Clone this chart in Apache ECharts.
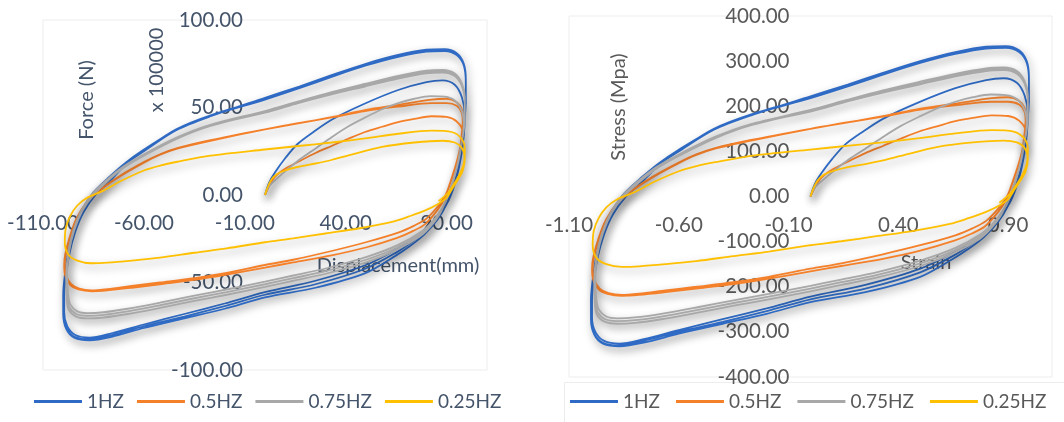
<!DOCTYPE html>
<html>
<head>
<meta charset="utf-8">
<script src="https://cdn.jsdelivr.net/npm/echarts@6/dist/echarts.min.js"></script>
<style>
html,body{margin:0;padding:0;background:#fff;}
#chart{width:1064px;height:422px;}
</style>
</head>
<body>
<div id="chart"></div>
<script>
// ---------- DATA (displacement mm, force x100000 N) ----------
const SERIES_NAMES = ['1HZ', '0.5HZ', '0.75HZ', '0.25HZ'];
const SERIES_COLORS = ['#2F6BC4', '#F5802A', '#A8A8A8', '#FFC000'];

const X_TICKS_LEFT = [-110, -60, -10, 40, 90];
const Y_TICKS_LEFT = [-100, -50, 0, 50, 100];
const X_TICKS_RIGHT = [-1.1, -0.6, -0.1, 0.4, 0.9];
const Y_TICKS_RIGHT = [-400, -300, -200, -100, 0, 100, 200, 300, 400];

// unit conversions used for the Stress-Strain panel
const STRAIN_PER_MM = 0.01;
const MPA_PER_FORCE_UNIT = 4;

const LOOP_1HZ = [
  [0,0],[2,7],[5,13],[10,21],[16,29],[24,36],[33,43],[49,52],[66,60],[80,64.5],[88,65.5],[94,63],[97.5,56],[99,46],
  [98.5,34],[97,21],[94.5,8],[91,-3],[86.5,-11],[80,-19],[73,-25.5],[66,-30.5],[50,-40],[25,-49],[0,-55.5],[-20,-62],[-40,-68],[-60,-74],[-76,-79],[-87,-81.5],[-94,-80],[-98,-75],[-99.5,-67],[-99.5,-57],[-98.7,-47],[-97,-34],[-94,-21],[-90,-10],[-84,0],[-76,9],[-68,18.5],[-60,25],[-44,37],[-27,45],[0,55.5],[17,62],[33,68.5],[50,75],[66,80],[80,83],[89,83.3],[95,81],[98.5,75],[99.5,66],[99.5,55],[99,45],
  [98,33],[96.5,20],[94,7],[90.5,-4],[86,-12.5],[79.5,-20.5],[72.5,-27],[65.5,-32.5],[50,-42],[25,-51],[0,-57],[-20,-63.5],[-40,-69.5],[-60,-75],[-76,-80],[-87,-82.5],[-94.5,-81],[-98.5,-76],[-99.8,-68],[-99.8,-57],[-99,-46],[-97.3,-33],[-94.3,-20],[-90.3,-9],[-84.5,1],[-76.5,10],[-68.5,18.5],[-60,25.5],[-44,37.5],[-27,45.5],[0,55],[17,61.5],[33,68],[50,74.5],[66,79.5],[80,82.5],[89,82.8],[95,80.5],[98.5,74.5],[99.5,65],[99.5,54],[99,44],
  [98,32],[96.5,19],[93.5,6],[90,-5],[85.5,-14],[79,-22.5],[72,-29],[65,-34.5],[50,-44.5],[25,-53],[0,-58.5],[-20,-65],[-40,-70.5],[-60,-76],[-76,-81],[-87,-83],[-94.5,-81.5],[-98.5,-76.5],[-100,-68],[-100,-57],[-99.2,-46],[-97.5,-33],[-94.5,-20],[-90.5,-8.5],[-85,1.5],[-77,10.5],[-69,18.5],[-60.5,25.5],[-44.5,37],[-27.5,45],[0,54.5],[17,61],[33,67.5],[50,74],[66,79],[80,82],[89,82.3],[95,80],[98.5,74],[99.5,64],[99.5,52]
];

const LOOP_05HZ = [
  [0,0],[2,5],[5,10.5],[10,15],[16.5,19],[25,24],[33,28],[41,32],[49.5,36],[58,39],[66,41.7],[74,43.5],[82.5,45],[90,44.6],[95,42],[98,36],
  [97,27],[95,18],[92.5,9],[89.5,0],[86,-6],[80,-13.5],[74,-17.5],[66,-21.5],[50,-27],[33,-32],[14,-37],[0,-40],[-19,-44.5],[-35,-47.5],[-52,-50],[-66,-52],[-78,-53.8],[-86,-54.5],[-92,-53.5],[-96,-51],[-98.5,-46],[-99.2,-40],[-98.7,-34],[-96.2,-23],[-93,-13],[-88,-4],[-81,3.4],[-71.4,11],[-60,18.5],[-52,23],[-43.5,26.5],[-27,31],[0,37.5],[16.5,41],[33,44.5],[49.5,48.5],[66,51.5],[82.5,54.5],[90,55],[95,53],[97.5,49],[98,43],[97.5,35],
  [96.5,26],[94.5,17],[92,8],[89,-2],[85.5,-8.5],[79.5,-16.5],[73.5,-20.5],[65.5,-24.5],[50,-30],[33,-34.5],[14,-38.5],[0,-41.5],[-19,-45.5],[-35,-48.5],[-52,-51],[-66,-53],[-78,-54.5],[-86,-55],[-92.5,-54],[-96.5,-51.5],[-99,-46],[-99.5,-40],[-99,-34],[-96.5,-23],[-93.2,-13],[-88.2,-4],[-81.2,3.5],[-71.5,11.2],[-60,18.8],[-52,23.3],[-43.5,26.8],[-27,31.3],[0,37.5],[16.5,41],[33,44.3],[49.5,48],[66,50.5],[82.5,52.5],[90,52.5],[95,51],[97.5,47],[98,41]
];

const LOOP_075HZ = [
  [0,0],[2,5],[6,9.5],[12,15.5],[18,21],[25,26.5],[33,33],[41,39],[50,44.5],[58,49],[66,52.5],[74,55],[82,56.5],[89,56.2],[94,54],[97.5,48],[98.5,40],
  [97.5,30],[96,20],[93.5,9],[91,0],[87.5,-8],[83,-15],[78,-20.5],[66,-28.5],[50,-35.5],[30,-42],[14,-46],[0,-49.5],[-19,-54],[-35,-57.5],[-52,-61.5],[-68,-65],[-80,-67],[-88,-67.5],[-93,-66.5],[-96.5,-62.5],[-97.5,-57],[-98,-46],[-97,-32],[-94.5,-20],[-90.5,-9],[-85,0],[-78,8],[-70,15.5],[-60,22.5],[-43,32.5],[-27,39.5],[0,47.5],[16.5,53],[33,58],[49.5,62.5],[66,67],[80,70],[88,70.5],[94,68.5],[97.5,63],[99,55],[99,45],[98.5,37],
  [97.3,29],[95.8,19],[93.2,8],[90.5,-1],[87,-9.5],[82.5,-16.5],[77.5,-22],[65.5,-30],[50,-37],[30,-43.5],[14,-47.5],[0,-51],[-19,-55.5],[-35,-59],[-52,-63],[-68,-66.5],[-80,-68.5],[-88,-69],[-93.5,-68],[-97,-64],[-98,-58],[-98.3,-46],[-97.3,-32],[-94.8,-20],[-90.8,-8.5],[-85.5,0.5],[-78.5,8.5],[-70.5,16],[-60.5,23],[-43.5,33],[-27.5,40],[0,48],[16.5,53.5],[33,58.8],[49.5,63.5],[66,68],[80,71],[88,71.5],[94,69.5],[97.5,64],[99,56],[99,46],[98.5,37],
  [97,28],[95.5,18],[92.8,7],[90,-2],[86.5,-11],[82,-18],[77,-23.5],[65,-31.5],[50,-38.5],[30,-45],[14,-49],[0,-52.5],[-19,-57],[-35,-60.5],[-52,-64.5],[-68,-68],[-80,-70],[-88,-70.5],[-93.5,-69.5],[-97.3,-65.5],[-98.3,-59],[-98.5,-47],[-97.5,-33],[-95,-20.5],[-91,-9],[-86,0],[-79,8],[-71,15.5],[-61,22.5],[-44,32.5],[-28,39.5],[0,47],[16.5,52.5],[33,57.5],[49.5,62],[66,66.5],[80,69.5],[88,70],[94,68],[97.5,62.5],[99,54],[99,44]
];

const LOOP_025HZ = [
  [0,0],[1.5,5],[3.3,9],[6,12],[10,14],[16,16],[25,18],[33,20],[41,22.5],[58,27.5],[74,30],[88,31],[94,30],[97.5,27],[99,21],
  [98,14],[96,9.5],[93,4],[90,-1.5],[86,-5],[80,-8.5],[72,-12],[63.5,-15.2],[47,-19],[30,-22],[14,-24.8],[0,-27],[-19,-30.5],[-35,-33],[-52,-35.8],[-66,-37.5],[-78,-38.7],[-86,-39],[-93,-37.5],[-97.5,-34],[-99.2,-27],[-98.7,-19],[-96.5,-12],[-93,-6],[-88,-1.5],[-80,2.5],[-71.4,8],[-60,14],[-52,16.8],[-43.4,19],[-27,22.5],[0,26],[16.5,28],[33,30],[49.5,32.3],[66,35],[82.5,36.8],[92.5,36],[97.5,32],[99,26],[98.5,18],[96.5,12],[93.5,6],[90.5,1],[86,-3.5]
];

const LOOPS = [LOOP_1HZ, LOOP_05HZ, LOOP_075HZ, LOOP_025HZ];

// ---------- CHART ----------
const FONT = 'Lato';
const LEFT_TEXT = '#44546A';
const RIGHT_TEXT = '#595959';
const AXIS_FONT = 20.5;

function tickFormatter(ticks) {
  return function (v) {
    return ticks.some(t => Math.abs(t - v) < 1e-6) ? v.toFixed(2) : '';
  };
}

function makeAxis(opts) {
  return {
    type: 'value',
    gridIndex: opts.grid,
    position: opts.position,
    offset: opts.offset,
    min: opts.min, max: opts.max, interval: opts.interval,
    axisLine: { show: false, onZero: false },
    axisTick: { show: false },
    splitLine: { show: false },
    axisLabel: {
      color: opts.color, fontFamily: FONT, fontSize: AXIS_FONT, margin: opts.margin,
      formatter: tickFormatter(opts.ticks), showMinLabel: true, showMaxLabel: true, hideOverlap: false
    }
  };
}

const series = [];
LOOPS.forEach((loop, i) => {
  const common = {
    name: SERIES_NAMES[i],
    type: 'line',
    showSymbol: false,
    smooth: 0.3,
    animation: false,
    lineStyle: {
      color: SERIES_COLORS[i], width: 1.8,
      shadowColor: 'rgba(0,0,0,0.38)', shadowBlur: 8, shadowOffsetX: 2, shadowOffsetY: 4
    },
    itemStyle: { color: SERIES_COLORS[i] }
  };
  series.push(Object.assign({}, common, { xAxisIndex: 0, yAxisIndex: 0, data: loop }));
  series.push(Object.assign({}, common, {
    xAxisIndex: 1, yAxisIndex: 1,
    data: loop.map(p => [p[0] * STRAIN_PER_MM, p[1] * MPA_PER_FORCE_UNIT])
  }));
});

const legendCommon = {
  data: SERIES_NAMES,
  icon: 'rect',
  itemWidth: 48,
  itemHeight: 3,
  padding: 0,
  top: 392,
  selectedMode: false
};

const option = {
  animation: false,
  backgroundColor: '#ffffff',
  grid: [
    { left: 43, top: 20, width: 444, height: 350, show: true, borderColor: '#EDEDED', borderWidth: 1 },
    { left: 569, top: 16, width: 483, height: 361, show: true, borderColor: '#EDEDED', borderWidth: 1 }
  ],
  xAxis: [
    makeAxis({ grid: 0, position: 'bottom', offset: -175, min: -110, max: 110, interval: 10, color: LEFT_TEXT, margin: 18, ticks: X_TICKS_LEFT }),
    makeAxis({ grid: 1, position: 'bottom', offset: -180.5, min: -1.1, max: 1.1, interval: 0.1, color: RIGHT_TEXT, margin: 18, ticks: X_TICKS_RIGHT })
  ],
  yAxis: [
    makeAxis({ grid: 0, position: 'left', offset: -222, min: -100, max: 100, interval: 50, color: LEFT_TEXT, margin: 22, ticks: Y_TICKS_LEFT }),
    makeAxis({ grid: 1, position: 'left', offset: -241.5, min: -400, max: 400, interval: 100, color: RIGHT_TEXT, margin: 21, ticks: Y_TICKS_RIGHT })
  ],
  legend: [
    Object.assign({}, legendCommon, { left: 34, itemGap: 13, textStyle: { color: LEFT_TEXT, fontFamily: FONT, fontSize: 19 } }),
    Object.assign({}, legendCommon, { left: 570, itemGap: 16, textStyle: { color: RIGHT_TEXT, fontFamily: FONT, fontSize: 19 } })
  ],
  graphic: [
    { type: 'rect', left: 562, top: 380, shape: { width: 520, height: 50 }, style: { fill: 'none', stroke: '#EDEDED', lineWidth: 1 }, silent: true },
    { type: 'text', x: 87, y: 100, rotation: Math.PI / 2, style: { text: 'Force (N)', fill: LEFT_TEXT, font: '20px Lato', align: 'center', verticalAlign: 'middle' } },
    { type: 'text', x: 157, y: 70, rotation: Math.PI / 2, style: { text: 'x 100000', fill: LEFT_TEXT, font: '20px Lato', align: 'center', verticalAlign: 'middle' } },
    { type: 'text', x: 398, y: 266, style: { text: 'Displacement(mm)', fill: LEFT_TEXT, font: '20px Lato', align: 'center', verticalAlign: 'middle' } },
    { type: 'text', x: 619, y: 107, rotation: Math.PI / 2, style: { text: 'Stress (Mpa)', fill: RIGHT_TEXT, font: '20px Lato', align: 'center', verticalAlign: 'middle' } },
    { type: 'text', x: 926, y: 263, style: { text: 'Strain', fill: RIGHT_TEXT, font: '20px Lato', align: 'center', verticalAlign: 'middle' } }
  ],
  series: series
};

const chart = echarts.init(document.getElementById('chart'), null, { renderer: 'canvas' });
chart.setOption(option);
</script>
</body>
</html>
